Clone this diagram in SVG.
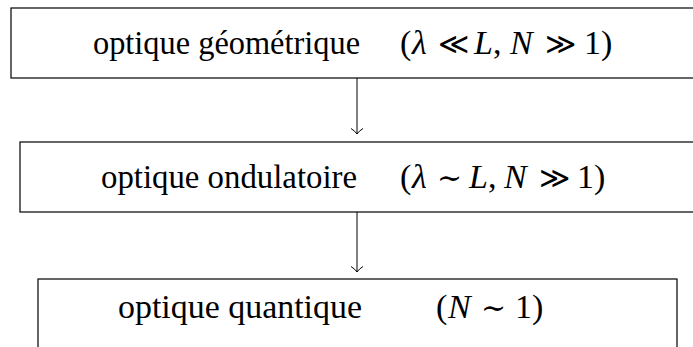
<svg xmlns="http://www.w3.org/2000/svg" width="693" height="347" viewBox="0 0 693 347">
<style>
.box{fill:#fff;stroke:#000;stroke-width:1.2}
.t{font-family:"Liberation Serif","DejaVu Serif",serif;font-size:34px;fill:#000}
.s{font-family:"DejaVu Serif",serif;font-size:30px}
.i{font-style:italic}
.c{fill:none;stroke:#000;stroke-width:1}
</style>
<rect width="693" height="347" fill="#fff"/>
<g id="connectors">
<path class="c" d="M357,78 V134 M351,128.5 Q355,131 357,134 Q359,131 363,128.5"/>
<path class="c" d="M357,212 V272 M351,266.5 Q355,269 357,272 Q359,269 363,266.5"/>
</g>
<g id="n1">
<rect class="box" x="11" y="8" width="692" height="70"/>
<text class="t" x="93" y="54" textLength="267" lengthAdjust="spacingAndGlyphs">optique géométrique</text>
<text class="t" y="54"><tspan x="400">(</tspan><tspan x="412" class="i">λ</tspan><tspan x="438" class="s">≪</tspan><tspan x="474" class="i">L</tspan><tspan>,</tspan><tspan x="510" class="i">N</tspan><tspan x="545" class="s">≫</tspan><tspan x="584">1)</tspan></text>
</g>
<g id="n2">
<rect class="box" x="20" y="142" width="674" height="70"/>
<text class="t" x="101" y="188" textLength="256" lengthAdjust="spacingAndGlyphs">optique ondulatoire</text>
<text class="t" y="188"><tspan x="400">(</tspan><tspan x="412" class="i">λ</tspan><tspan x="437" class="s">∼</tspan><tspan x="469" class="i">L</tspan><tspan>,</tspan><tspan x="504" class="i">N</tspan><tspan x="539" class="s">≫</tspan><tspan x="577">1)</tspan></text>
</g>
<g id="n3">
<rect class="box" x="38" y="279" width="639" height="80"/>
<text class="t" x="118" y="318" textLength="244" lengthAdjust="spacingAndGlyphs">optique quantique</text>
<text class="t" y="318"><tspan x="436">(</tspan><tspan x="448" class="i">N</tspan><tspan x="481" class="s">∼</tspan><tspan x="515">1)</tspan></text>
</g>
</svg>
